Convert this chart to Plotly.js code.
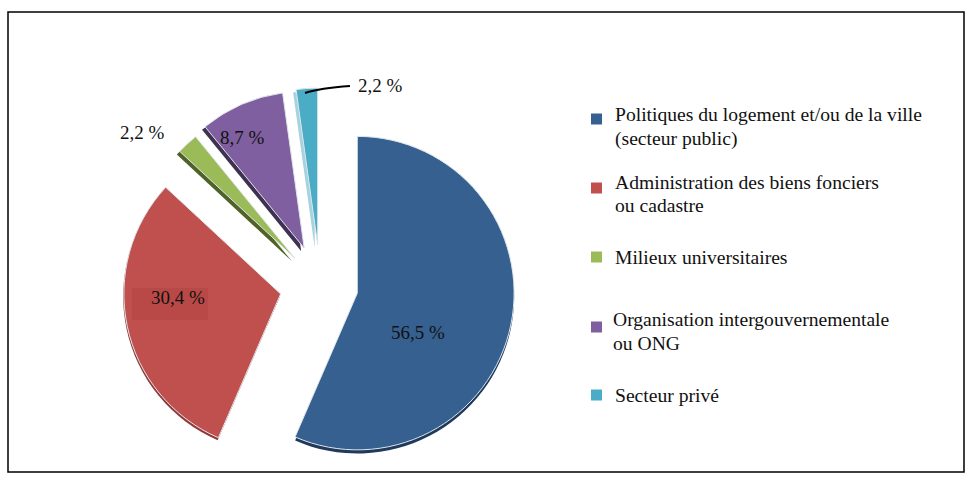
<!DOCTYPE html>
<html><head><meta charset="utf-8">
<script src="https://cdn.plot.ly/plotly-3.0.1.min.js"></script>
<style>html,body{margin:0;padding:0;background:#fff;overflow:hidden}</style></head>
<body><div id="c" style="width:972px;height:480px;overflow:hidden"></div>
<script>
const categories=["Politiques du logement et/ou de la ville (secteur public)","Administration des biens fonciers ou cadastre","Milieux universitaires","Organisation intergouvernementale ou ONG","Secteur privé"];
const values=[56.5,30.4,2.2,8.7,2.2];
const labels=["56,5 %","30,4 %","2,2 %","8,7 %","2,2 %"];
const colors=["#35608f","#c0504d","#9bbb59","#7f5f9f","#4bacc6"];
const sideColors=["#1f3a5c","#8f3a38","#4f6228","#3f3151","#a5d3e0"];
const pulls=[0.24,0.26,0.24,0.26,0.26];
const sidePulls=[0.26,0.245,0.24,0.26,0.26];
const f="Liberation Serif, Times New Roman, serif";
const W=972,H=500;
const px=x=>x/W, py=y=>1-y/H;
const lines=[["Politiques du logement et/ou de la ville","(secteur public)"],["Administration des biens fonciers","ou cadastre"],["Milieux universitaires"],["Organisation intergouvernementale","ou ONG"],["Secteur privé"]];
const textLeft=[614,614,614,612,614];
const lineY=[[115,139],[182,206],[257],[319,343],[395]];
const boxY=[119,188,257,327,395];
const labelPos=[[418,332],[178,297],[142,132],[242,137],[380,86]];
const ann=[];
const shapes=[{type:'rect',xref:'paper',yref:'paper',x0:px(8),x1:px(964),y0:py(472),y1:py(12),line:{color:'#000',width:1.5},fillcolor:'rgba(0,0,0,0)'}];
lines.forEach((ls,i)=>{
 ls.forEach((t,j)=>ann.push({xref:'paper',yref:'paper',x:px(textLeft[i]),y:py(lineY[i][j]),text:t,showarrow:false,xanchor:'left',yanchor:'middle',xshift:-1,font:{family:f,size:19.6,color:'#111'}}));
 shapes.push({type:'rect',xref:'paper',yref:'paper',x0:px(591),x1:px(602),y0:py(boxY[i]+5.5),y1:py(boxY[i]-5.5),fillcolor:colors[i],line:{width:0}});
});
labelPos.forEach((p,i)=>ann.push({xref:'paper',yref:'paper',x:px(p[0]),y:py(p[1]),text:labels[i],showarrow:false,xanchor:'center',yanchor:'middle',font:{family:f,size:19,color:'#111'}}));
shapes.push({type:'path',xref:'paper',yref:'paper',path:`M ${px(305)} ${py(93)} Q ${px(320)} ${py(88)} ${px(350)} ${py(86)}`,line:{color:'#000',width:2}});
shapes.push({type:'rect',xref:'paper',yref:'paper',x0:px(132),x1:px(208),y0:py(320),y1:py(288),fillcolor:'rgba(160,50,45,0.22)',line:{width:0}});
const pieSize=395, pieLeft=123, pieTop=88;
const dom=(l,t)=>({x:[px(l),px(l+pieSize)],y:[py(t+pieSize),py(t)]});
const base={type:'pie',values:values,labels:categories,sort:false,direction:'clockwise',rotation:0,textinfo:'none',hoverinfo:'none'};
Plotly.newPlot('c',[
 Object.assign({},base,{pull:sidePulls,marker:{colors:sideColors,line:{width:0}},domain:dom(pieLeft-3,pieTop+3)}),
 Object.assign({},base,{pull:pulls,marker:{colors:colors,line:{color:'#dfe5ea',width:1}},domain:dom(pieLeft,pieTop)})
],{width:W,height:H,margin:{l:0,r:0,t:0,b:0},showlegend:false,paper_bgcolor:'#fff',annotations:ann,shapes:shapes},{staticPlot:true});
</script></body></html>
